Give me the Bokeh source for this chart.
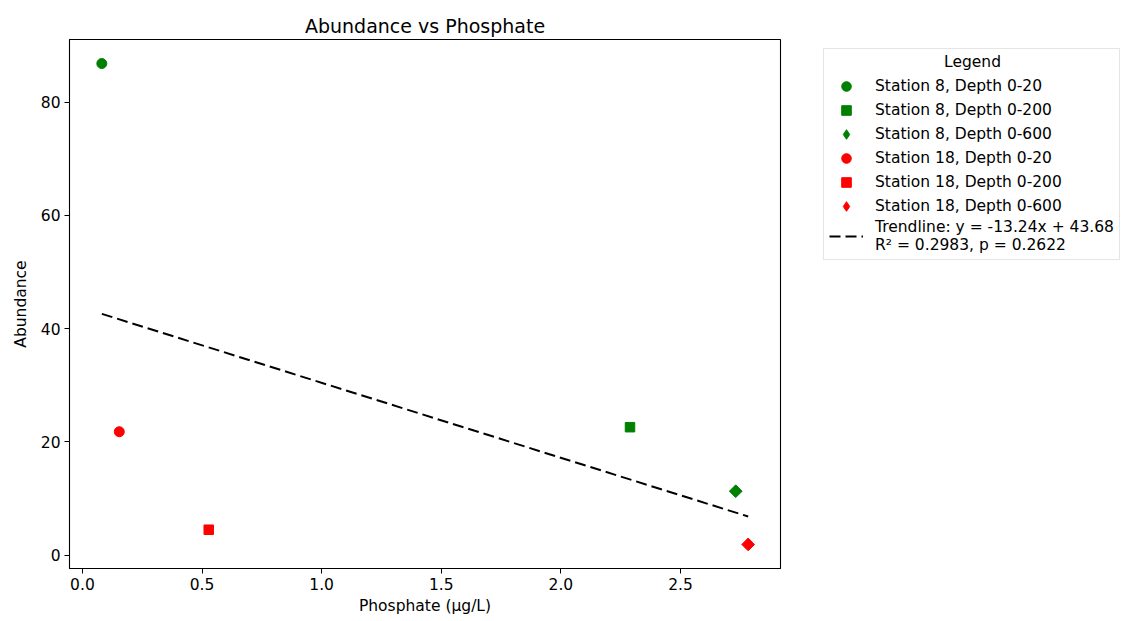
import numpy as np
from bokeh.plotting import figure
from bokeh.models import (Range1d, FixedTicker, NumeralTickFormatter, Legend,
                          LegendItem, Label)
from bokeh.embed import file_html
from bokeh.resources import INLINE

# ---- data ----
series_labels = ["Station 8, Depth 0-20", "Station 8, Depth 0-200", "Station 8, Depth 0-600",
                 "Station 18, Depth 0-20", "Station 18, Depth 0-200", "Station 18, Depth 0-600"]
phosphate = [0.081, 2.289, 2.731, 0.154, 0.528, 2.783]
abundance = [86.8, 22.6, 11.3, 21.8, 4.5, 1.9]
station_colors = ["green", "green", "green", "red", "red", "red"]
depth_markers = ["circle", "square", "diamond", "circle", "square", "diamond"]

trend_slope = -13.24
trend_intercept = 43.68
trend_r2 = 0.2983
trend_p = 0.2622

x_ticks = [0.0, 0.5, 1.0, 1.5, 2.0, 2.5]
y_ticks = [0, 20, 40, 60, 80]

FONT = "DejaVu Sans"
FS = "15.5px"

xmin, xmax = min(phosphate), max(phosphate)
ymin, ymax = min(abundance), max(abundance)
xpad = 0.05 * (xmax - xmin)
ypad = 0.05 * (ymax - ymin)

p = figure(frame_width=711, frame_height=529, output_backend="svg", toolbar_location=None,
           x_range=Range1d(xmin - xpad, xmax + xpad),
           y_range=Range1d(ymin - ypad, ymax + ypad),
           title="Abundance vs Phosphate",
           min_border_left=69, min_border_right=0, min_border_top=39, min_border_bottom=53)

p.title.align = "center"
p.title.text_font = FONT
p.title.text_font_size = "19px"
p.title.text_font_style = "normal"
p.title.text_color = "black"
p.title.standoff = 6

p.xgrid.visible = False
p.ygrid.visible = False
p.outline_line_color = "black"
p.outline_line_width = 1.1
p.background_fill_color = "white"
p.border_fill_color = "white"

for ax in (p.xaxis[0], p.yaxis[0]):
    ax.axis_line_color = "black"
    ax.major_tick_line_color = "black"
    ax.major_tick_in = 0
    ax.major_tick_out = 5
    ax.minor_tick_line_color = None
    ax.major_label_text_font = FONT
    ax.major_label_text_font_size = FS
    ax.major_label_text_color = "black"
    ax.axis_label_text_font = FONT
    ax.axis_label_text_font_size = FS
    ax.axis_label_text_font_style = "normal"
    ax.axis_label_text_color = "black"
    ax.major_label_standoff = 4

p.xaxis.ticker = FixedTicker(ticks=x_ticks)
p.yaxis.ticker = FixedTicker(ticks=y_ticks)
p.xaxis.formatter = NumeralTickFormatter(format="0.0")
p.yaxis.formatter = NumeralTickFormatter(format="0")
p.xaxis.axis_label = "Phosphate (µg/L)"
p.yaxis.axis_label = "Abundance"
p.xaxis.axis_label_standoff = 4
p.yaxis.axis_label_standoff = 8

items = []
for lab, x, y, c, m in zip(series_labels, phosphate, abundance, station_colors, depth_markers):
    if m == "diamond":
        r = p.scatter([x], [y], marker="square", angle=np.pi / 4, size=9,
                      fill_color=c, line_color=c, line_width=1)
        # legend swatch (drawn only in the legend)
        proxy = p.scatter([np.nan], [np.nan], marker="diamond", size=15,
                          fill_color=c, line_color=c, line_width=1)
        items.append(LegendItem(label=lab, renderers=[proxy]))
        continue
    elif m == "square":
        r = p.scatter([x], [y], marker="square", size=9.5,
                      fill_color=c, line_color=c, line_width=1)
    else:
        r = p.scatter([x], [y], marker="circle", size=10,
                      fill_color=c, line_color=c, line_width=1)
    items.append(LegendItem(label=lab, renderers=[r]))

tx = np.array([xmin, xmax])
ty = trend_slope * tx + trend_intercept
tr = p.line(tx, ty, line_color="black", line_width=2, line_dash="11 5")
items.append(LegendItem(
    label=f"Trendline: y = {trend_slope:.2f}x + {trend_intercept:.2f}\nR² = {trend_r2:.4f}, p = {trend_p:.4f}",
    renderers=[tr]))

legend_title = Label(x=192, y=507, x_units="screen", y_units="screen", text="Legend",
                     text_align="center", text_baseline="middle",
                     text_font=FONT, text_font_size=FS, text_color="black")
p.add_layout(legend_title, "right")

legend = Legend(items=items, location=(-247, 308), title=" ",
                padding=5, spacing=0, glyph_width=34, glyph_height=24,
                label_standoff=12, label_height=24,
                label_text_font=FONT, label_text_font_size=FS,
                label_text_color="black",
                title_text_font=FONT, title_text_font_size=FS,
                title_text_font_style="normal", title_text_color="black",
                title_standoff=2,
                border_line_color="#cccccc", border_line_width=1,
                background_fill_color="white", background_fill_alpha=0.0,
                margin=0)
p.add_layout(legend, "right")

open("out.html", "w").write(file_html(p, INLINE))
